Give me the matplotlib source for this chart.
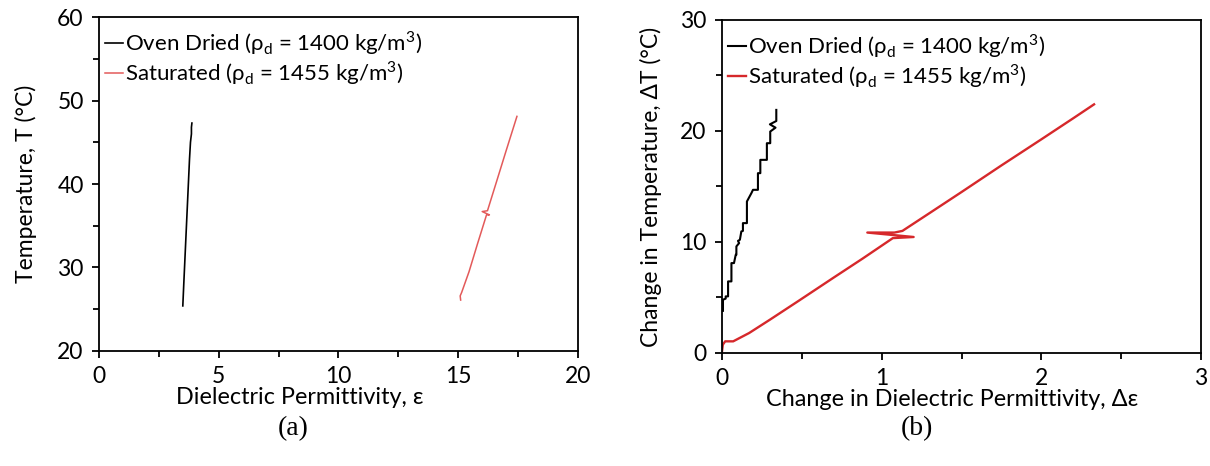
import matplotlib
matplotlib.use("Agg")
import matplotlib.pyplot as plt
from matplotlib.ticker import MultipleLocator

plt.rcParams["font.family"] = ["Lato", "DejaVu Sans"]
plt.rcParams["mathtext.fontset"] = "custom"
plt.rcParams["mathtext.rm"] = "Lato"

# (a) temperature vs permittivity
oven_eps = [3.50, 3.54, 3.58, 3.62, 3.66, 3.70, 3.74, 3.78, 3.82, 3.86, 3.86, 3.88]
oven_T = [25.4, 28.0, 30.5, 33.0, 35.5, 38.0, 40.5, 43.0, 45.0, 46.0, 46.8, 47.3]
sat_eps = [15.10, 15.08, 15.14, 15.45, 15.80, 16.18, 16.30, 16.00, 16.22, 16.60, 17.00, 17.45]
sat_T = [26.1, 26.6, 27.0, 29.5, 32.8, 36.3, 36.3, 36.7, 36.8, 40.3, 44.0, 48.1]

# (b) change in temperature vs change in permittivity
oven_deps = [0.006, 0.006, 0.023, 0.023, 0.038, 0.038, 0.059, 0.059, 0.075, 0.086,
             0.090, 0.090, 0.107, 0.100, 0.112, 0.121, 0.131, 0.131, 0.156, 0.156,
             0.184, 0.194, 0.225, 0.225, 0.240, 0.240, 0.281, 0.281, 0.302, 0.302,
             0.335, 0.300, 0.340, 0.340]
oven_dT = [3.8, 4.8, 4.9, 5.1, 5.1, 6.45, 6.45, 8.1, 8.1, 8.85,
           8.85, 9.6, 9.9, 10.1, 10.2, 10.95, 11.0, 11.7, 11.7, 13.65,
           14.4, 14.7, 14.7, 16.2, 16.2, 17.4, 17.4, 18.9, 18.9, 19.95,
           20.3, 20.6, 20.9, 21.9]
sat_deps = [0.0, 0.005, 0.02, 0.07, 0.11, 0.17, 0.30, 0.48, 0.70, 0.88, 1.07, 1.20,
            0.91, 1.08, 1.13, 1.31, 1.50, 1.75, 2.00, 2.20, 2.33]
sat_dT = [0.15, 0.75, 1.05, 1.05, 1.35, 1.8, 3.0, 4.7, 6.8, 8.5, 10.35, 10.45,
          10.85, 10.85, 11.0, 12.7, 14.5, 16.9, 19.25, 21.15, 22.4]

lbl_oven = "Oven Dried (ρ$_\\mathregular{d}$ = 1400 kg/m$^\\mathregular{3}$)"
lbl_sat = "Saturated (ρ$_\\mathregular{d}$ = 1455 kg/m$^\\mathregular{3}$)"

fig = plt.figure(figsize=(12.1, 4.66), dpi=100)
ax1 = fig.add_axes([0.0818, 0.2468, 0.3959, 0.7167])
ax2 = fig.add_axes([0.5967, 0.2425, 0.3959, 0.7146])

ax1.plot(oven_eps, oven_T, color="black", lw=1.2, label=lbl_oven)
ax1.plot(sat_eps, sat_T, color="#E35A5A", lw=1.1, label=lbl_sat)
ax2.plot(oven_deps, oven_dT, color="black", lw=1.5, label=lbl_oven)
ax2.plot(sat_deps, sat_dT, color="#D6282B", lw=1.7, label=lbl_sat)

ax1.set_xlim(0, 20)
ax1.set_ylim(20, 60)
ax1.xaxis.set_major_locator(MultipleLocator(5))
ax1.xaxis.set_minor_locator(MultipleLocator(2.5))
ax1.yaxis.set_major_locator(MultipleLocator(10))
ax1.yaxis.set_minor_locator(MultipleLocator(5))
ax1.set_xlabel("Dielectric Permittivity, ε", fontsize=16.8)
ax1.xaxis.set_label_coords(0.42, -0.108)
ax1.set_ylabel("Temperature, T (°C)", fontsize=16.5)
ax1.yaxis.set_label_coords(-0.13, 0.5)

ax2.set_xlim(0, 3)
ax2.set_ylim(0, 30)
ax2.xaxis.set_major_locator(MultipleLocator(1))
ax2.xaxis.set_minor_locator(MultipleLocator(0.5))
ax2.yaxis.set_major_locator(MultipleLocator(10))
ax2.yaxis.set_minor_locator(MultipleLocator(5))
ax2.set_xlabel("Change in Dielectric Permittivity, Δε", fontsize=16.8)
ax2.xaxis.set_label_coords(0.48, -0.108)
ax2.set_ylabel("Change in Temperature, ΔT (°C)", fontsize=16.5)
ax2.yaxis.set_label_coords(-0.125, 0.5)

for ax in (ax1, ax2):
    for sp in ax.spines.values():
        sp.set_linewidth(1.3)
    ax.tick_params(which="major", direction="out", length=5, width=1.3, labelsize=16.5, pad=6)
    ax.tick_params(which="minor", direction="out", length=4, width=1.3)
    ax.legend(loc="upper left", bbox_to_anchor=(-0.02, 1.01), frameon=False, fontsize=16,
              handlelength=0.8, handletextpad=0.1, labelspacing=0.08, borderaxespad=0.3)

fig.text(0.2421, 0.08, "(a)", family="Liberation Serif", fontsize=20, ha="center", va="center")
fig.text(0.7579, 0.08, "(b)", family="Liberation Serif", fontsize=20, ha="center", va="center")

fig.savefig("out.png", dpi=100)
